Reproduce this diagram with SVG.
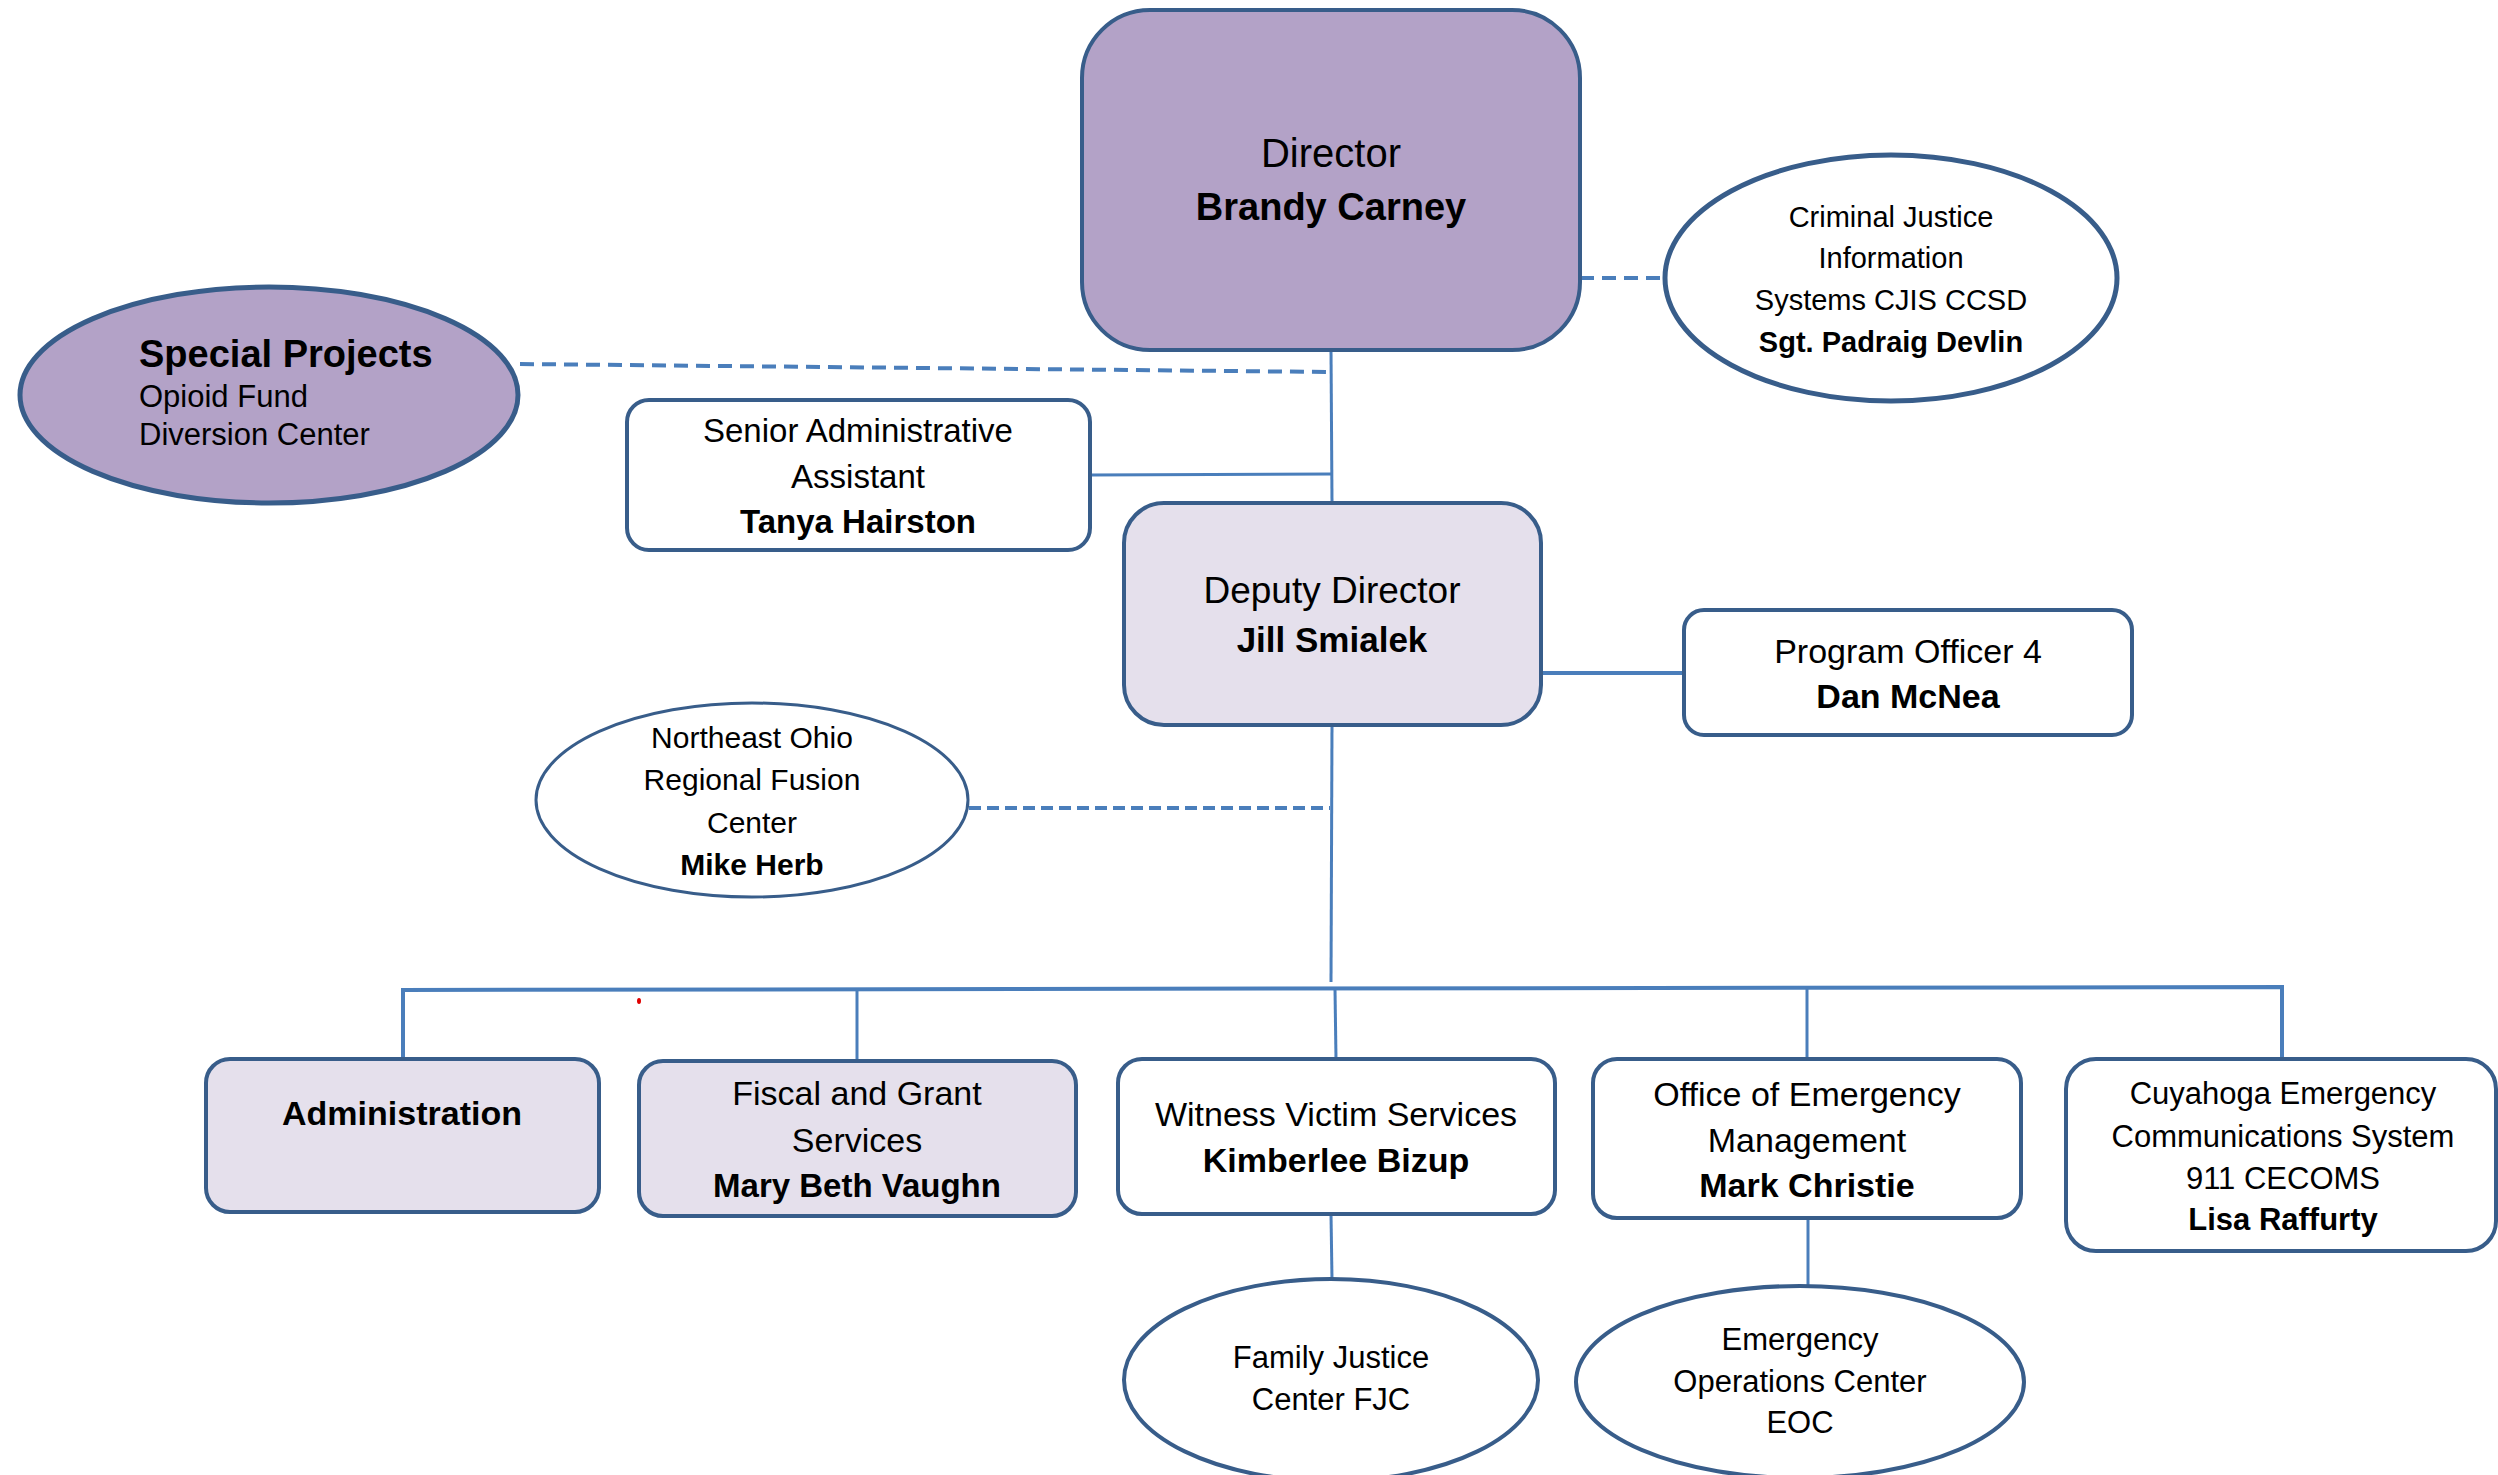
<svg xmlns="http://www.w3.org/2000/svg" width="2498" height="1475" viewBox="0 0 2498 1475">
<style>
text{font-family:"Liberation Sans",Arial,sans-serif;fill:#000;text-anchor:middle}
.b{font-weight:bold}
.box{stroke:#385d8a;stroke-width:4}
.w{fill:#fff}
.lp{fill:#e5e0ec}
.dp{fill:#b3a2c7}
.ln{stroke:#4a7ebb;stroke-width:3;fill:none}
.dash{stroke:#4a7ebb;stroke-width:4;fill:none;stroke-dasharray:14 8}
</style>
<rect width="2498" height="1475" fill="#fff"/>
<g id="connectors">
<line class="ln" x1="1331" y1="350" x2="1332" y2="503"/>
<line class="dash" x1="520" y1="364" x2="1330" y2="372"/>
<line class="dash" x1="1580" y1="278" x2="1664" y2="278"/>
<line class="ln" x1="1090" y1="475" x2="1332" y2="474"/>
<line class="ln" x1="1541" y1="673" x2="1684" y2="673" style="stroke-width:4"/>
<line class="ln" x1="1332" y1="725" x2="1331" y2="982"/>
<line class="dash" x1="969" y1="808" x2="1330" y2="808" style="stroke-dasharray:12 6"/>
<polyline class="ln" points="403,1059 403,990 2282,987 2282,1059" style="stroke-width:4"/>
<line class="ln" x1="857" y1="990" x2="857" y2="1061"/>
<line class="ln" x1="1335" y1="989" x2="1336" y2="1059"/>
<line class="ln" x1="1807" y1="988" x2="1807" y2="1059"/>
<line class="ln" x1="1331" y1="1214" x2="1332" y2="1279"/>
<line class="ln" x1="1808" y1="1218" x2="1808" y2="1286"/>
<ellipse cx="639" cy="1001" rx="2" ry="3" fill="#e00000"/>
</g>
<g id="director">
<rect class="box dp" x="1082" y="10" width="498" height="340" rx="68" ry="68"/>
<text x="1331" y="167" font-size="40">Director</text>
<text class="b" x="1331" y="220" font-size="38">Brandy Carney</text>
</g>
<g id="cjis">
<ellipse class="box w" cx="1891" cy="278" rx="226" ry="123" style="stroke-width:5"/>
<text x="1891" y="227" font-size="29">Criminal Justice</text>
<text x="1891" y="268" font-size="29">Information</text>
<text x="1891" y="310" font-size="29">Systems CJIS CCSD</text>
<text class="b" x="1891" y="352" font-size="29">Sgt. Padraig Devlin</text>
</g>
<g id="special-projects">
<ellipse class="box dp" cx="269" cy="395" rx="249" ry="108" style="stroke-width:5"/>
<text class="b" x="139" y="367" font-size="38" style="text-anchor:start">Special Projects</text>
<text x="139" y="407" font-size="31" style="text-anchor:start">Opioid Fund</text>
<text x="139" y="445" font-size="31" style="text-anchor:start">Diversion Center</text>
</g>
<g id="senior-admin">
<rect class="box w" x="627" y="400" width="463" height="150" rx="22" ry="22"/>
<text x="858" y="442" font-size="33">Senior Administrative</text>
<text x="858" y="488" font-size="33">Assistant</text>
<text class="b" x="858" y="533" font-size="33">Tanya Hairston</text>
</g>
<g id="deputy">
<rect class="box lp" x="1124" y="503" width="417" height="222" rx="40" ry="40"/>
<text x="1332" y="603" font-size="37">Deputy Director</text>
<text class="b" x="1332" y="652" font-size="35">Jill Smialek</text>
</g>
<g id="program-officer">
<rect class="box w" x="1684" y="610" width="448" height="125" rx="20" ry="20"/>
<text x="1908" y="663" font-size="34">Program Officer 4</text>
<text class="b" x="1908" y="708" font-size="34">Dan McNea</text>
</g>
<g id="fusion-center">
<ellipse class="box w" cx="752" cy="800" rx="216" ry="97" style="stroke-width:3"/>
<text x="752" y="748" font-size="30">Northeast Ohio</text>
<text x="752" y="790" font-size="30">Regional Fusion</text>
<text x="752" y="833" font-size="30">Center</text>
<text class="b" x="752" y="875" font-size="30">Mike Herb</text>
</g>
<g id="administration">
<rect class="box lp" x="206" y="1059" width="393" height="153" rx="24" ry="24"/>
<text class="b" x="402" y="1125" font-size="34">Administration</text>
</g>
<g id="fiscal">
<rect class="box lp" x="639" y="1061" width="437" height="155" rx="24" ry="24"/>
<text x="857" y="1105" font-size="34">Fiscal and Grant</text>
<text x="857" y="1152" font-size="34">Services</text>
<text class="b" x="857" y="1197" font-size="33">Mary Beth Vaughn</text>
</g>
<g id="witness">
<rect class="box w" x="1118" y="1059" width="437" height="155" rx="24" ry="24"/>
<text x="1336" y="1126" font-size="34">Witness Victim Services</text>
<text class="b" x="1336" y="1172" font-size="34">Kimberlee Bizup</text>
</g>
<g id="oem">
<rect class="box w" x="1593" y="1059" width="428" height="159" rx="24" ry="24"/>
<text x="1807" y="1106" font-size="34">Office of Emergency</text>
<text x="1807" y="1152" font-size="34">Management</text>
<text class="b" x="1807" y="1197" font-size="34">Mark Christie</text>
</g>
<g id="cecoms">
<rect class="box w" x="2066" y="1059" width="430" height="192" rx="30" ry="30"/>
<text x="2283" y="1104" font-size="31">Cuyahoga Emergency</text>
<text x="2283" y="1147" font-size="31">Communications System</text>
<text x="2283" y="1189" font-size="31">911 CECOMS</text>
<text class="b" x="2283" y="1230" font-size="31">Lisa Raffurty</text>
</g>
<g id="fjc">
<ellipse class="box w" cx="1331" cy="1380" rx="207" ry="101"/>
<text x="1331" y="1368" font-size="31">Family Justice</text>
<text x="1331" y="1410" font-size="31">Center FJC</text>
</g>
<g id="eoc">
<ellipse class="box w" cx="1800" cy="1382" rx="224" ry="96"/>
<text x="1800" y="1350" font-size="31">Emergency</text>
<text x="1800" y="1392" font-size="31">Operations Center</text>
<text x="1800" y="1433" font-size="31">EOC</text>
</g>
</svg>
